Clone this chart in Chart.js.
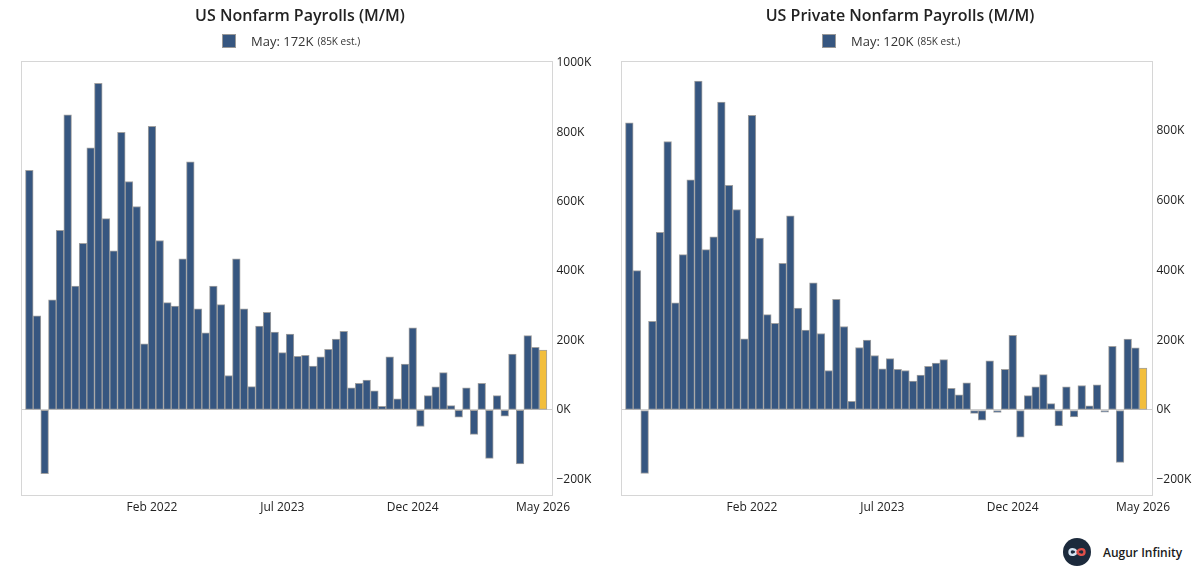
<!DOCTYPE html>
<html>
<head>
<meta charset="utf-8">
<script src="https://cdn.jsdelivr.net/npm/chart.js@4.4.1/dist/chart.umd.min.js"></script>
<style>
  body { margin: 0; background: #fff; font-family: "Open Sans", sans-serif; }
  #wrap { position: relative; width: 1200px; height: 574px; overflow: hidden; }
  .panel { position: absolute; top: 0; width: 600px; height: 530px; }
  .panel canvas { position: absolute; left: 0; top: 0; }
  .title { position: absolute; top: 4px; left: 0; width: 600px; text-align: center;
           font-weight: 600; font-size: 16px; line-height: 22px; color: #222; }
  .legend { position: absolute; top: 32px; left: 222px; font-size: 13px; line-height: 18px;
            color: #333; display: flex; align-items: center; white-space: nowrap; }
  .swatch { width: 12px; height: 12px; background: #365680; border: 1px solid #999; margin-right: 15px; }
  .legend small { font-size: 10px; margin-left: 4px; }
  .brand { position: absolute; left: 1063px; top: 538px; display: flex; align-items: center; }
  .brand span { margin-left: 12px; font-weight: 600; font-size: 12px; color: #1a1a1a; }
</style>
</head>
<body>
<div id="wrap">
  <div class="panel" style="left:0">
    <canvas id="nfp" width="600" height="530"></canvas>
    <div class="title">US Nonfarm Payrolls (M/M)</div>
    <div class="legend"><div class="swatch"></div>May: 172K<small>(85K est.)</small></div>
  </div>
  <div class="panel" style="left:600px">
    <canvas id="private" width="600" height="530"></canvas>
    <div class="title">US Private Nonfarm Payrolls (M/M)</div>
    <div class="legend"><div class="swatch"></div>May: 120K<small>(85K est.)</small></div>
  </div>
  <div class="brand">
    <svg width="28" height="28" viewBox="0 0 28 28">
      <circle cx="14" cy="14" r="14" fill="#1c2a3c"/>
      <path d="M14 14 C 11.5 10.2, 6.5 10.2, 6.5 14 C 6.5 17.8, 11.5 17.8, 14 14" fill="none" stroke="#d6e4f2" stroke-width="2.4"/>
      <path d="M14 14 C 16.5 10.2, 21.5 10.2, 21.5 14 C 21.5 17.8, 16.5 17.8, 14 14" fill="none" stroke="#e0504a" stroke-width="2.4"/>
    </svg>
    <span>Augur Infinity</span>
  </div>
</div>
<script>
const months = [
  "Oct 2020", "Nov 2020", "Dec 2020",
  "Jan 2021", "Feb 2021", "Mar 2021", "Apr 2021", "May 2021", "Jun 2021",
  "Jul 2021", "Aug 2021", "Sep 2021", "Oct 2021", "Nov 2021", "Dec 2021",
  "Jan 2022", "Feb 2022", "Mar 2022", "Apr 2022", "May 2022", "Jun 2022",
  "Jul 2022", "Aug 2022", "Sep 2022", "Oct 2022", "Nov 2022", "Dec 2022",
  "Jan 2023", "Feb 2023", "Mar 2023", "Apr 2023", "May 2023", "Jun 2023",
  "Jul 2023", "Aug 2023", "Sep 2023", "Oct 2023", "Nov 2023", "Dec 2023",
  "Jan 2024", "Feb 2024", "Mar 2024", "Apr 2024", "May 2024", "Jun 2024",
  "Jul 2024", "Aug 2024", "Sep 2024", "Oct 2024", "Nov 2024", "Dec 2024",
  "Jan 2025", "Feb 2025", "Mar 2025", "Apr 2025", "May 2025", "Jun 2025",
  "Jul 2025", "Aug 2025", "Sep 2025", "Oct 2025", "Nov 2025", "Dec 2025",
  "Jan 2026", "Feb 2026", "Mar 2026", "Apr 2026", "May 2026"
];

// thousands, month over month
const nfpValues = [
  690, 271, -184, 317, 517, 850, 357, 480, 755, 941, 551, 458,
  800, 658, 586, 190, 817, 488, 309, 299, 435, 715, 291, 222,
  357, 303, 99, 435, 291, 67, 241, 281, 224, 165, 218, 154,
  157, 126, 153, 174, 204, 226, 63, 76, 86, 55, 10, 153,
  32, 132, 236, -48, 41, 66, 107, 12, -21, 63, -71, 76,
  -140, 41, -18, 161, -156, 214, 180, 172
];
const privateValues = [
  822, 399, -182, 254, 509, 769, 307, 445, 659, 942, 459, 496,
  882, 643, 574, 204, 844, 492, 273, 248, 420, 556, 292, 229,
  364, 219, 113, 317, 239, 25, 179, 200, 156, 118, 147, 116,
  113, 83, 100, 125, 134, 144, 62, 43, 78, -10, -29, 141,
  -7, 116, 214, -78, 41, 66, 101, 18, -46, 66, -20, 70,
  12, 72, -6, 182, -150, 203, 178, 120
];

const xTickLabels = ["Feb 2022", "Jul 2023", "Dec 2024", "May 2026"];
const nfpYTicks = [-200, 0, 200, 400, 600, 800, 1000];
const privateYTicks = [-200, 0, 200, 400, 600, 800];

const navy = "#365680";
const gold = "#f2be3c";

Chart.defaults.font.family = "'Open Sans', sans-serif";

// light grey box round the plot area
const frame = {
  id: "frame",
  beforeDatasetsDraw(chart) {
    const { ctx, chartArea: a } = chart;
    ctx.save();
    ctx.strokeStyle = "#d6d6d6";
    ctx.lineWidth = 1;
    ctx.strokeRect(a.left, a.top, a.right - a.left, a.bottom - a.top);
    ctx.restore();
  },
};

function makeChart(id, values, yMin, yMax, yTicks) {
  const last = values.length - 1;
  return new Chart(document.getElementById(id), {
    type: "bar",
    data: {
      datasets: [
        {
          data: values.map((v, i) => ({ x: i, y: v })),
          backgroundColor: (c) => (c.dataIndex === last ? gold : navy),
          borderColor: "#a0a0a0",
          borderWidth: 1,
          borderSkipped: false,
          barPercentage: 1,
          categoryPercentage: 1,
        },
      ],
    },
    options: {
      responsive: false,
      animation: false,
      events: [],
      layout: { padding: { left: 21.5, top: 61.5, right: 0, bottom: 0 } },
      plugins: { legend: { display: false }, tooltip: { enabled: false } },
      scales: {
        x: {
          type: "linear",
          offset: false,
          min: -1.02,
          max: 68.23,
          grid: { display: false, drawTicks: false },
          border: { display: false },
          afterBuildTicks: (s) => {
            s.ticks = xTickLabels.map((l) => ({ value: months.indexOf(l) }));
          },
          afterFit: (s) => { s.height = 34.5; },
          ticks: {
            autoSkip: false,
            maxRotation: 0,
            padding: 5,
            color: "#222",
            font: { size: 12 },
            callback: (v) => months[v],
          },
        },
        y: {
          position: "right",
          min: yMin,
          max: yMax,
          grid: {
            drawTicks: false,
            color: (c) => (c.tick && c.tick.value === 0 ? "#cfcfcf" : "rgba(0,0,0,0)"),
          },
          border: { display: false },
          afterBuildTicks: (s) => {
            s.ticks = yTicks.map((v) => ({ value: v }));
          },
          afterFit: (s) => { s.width = 47.5; },
          ticks: {
            padding: 4,
            color: "#222",
            font: { size: 12 },
            callback: (v) => (v < 0 ? "\u2212" + Math.abs(v) : v) + "K",
          },
        },
      },
    },
    plugins: [frame],
  });
}

document.addEventListener("DOMContentLoaded", function () {
  makeChart("nfp", nfpValues, -247, 1004, nfpYTicks);
  makeChart("private", privateValues, -245, 998, privateYTicks);
});
</script>
</body>
</html>
